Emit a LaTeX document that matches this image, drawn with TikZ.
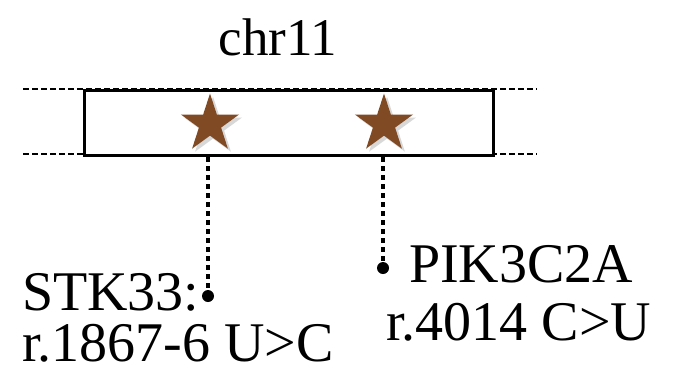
\documentclass[tikz,border=0pt]{standalone}
\usepackage{fontspec}
\setmainfont{Liberation Serif}
\usetikzlibrary{shapes.geometric,shadows}
\definecolor{starbrown}{RGB}{128,74,36}
\tikzset{
  lbl/.style={inner sep=0pt, anchor=base west, font=\fontsize{56}{60}\selectfont},
  starmark/.style={star, star points=5, star point ratio=2.618, minimum size=61pt, inner sep=0pt,
    fill=starbrown, draw=none, drop shadow={shadow xshift=3pt, shadow yshift=-3pt, opacity=0.3, fill=gray}},
  dotline/.style={line width=4.5pt, dash pattern=on 4.5pt off 4.5pt},
  guide/.style={line width=1.8pt, dash pattern=on 6pt off 3pt},
  pin/.style={circle, fill=black, inner sep=0pt, minimum size=12pt}
}
\begin{document}
\begin{tikzpicture}[x=1pt,y=-1pt]
\useasboundingbox (0,0) rectangle (674,383);
\coordinate (gl1) at (23,89); \coordinate (gr1) at (537,89);
\coordinate (gl2) at (23,154); \coordinate (gr2) at (537,154);
\draw[guide] (gl1) -- (gr1);
\draw[guide] (gl2) -- (gr2);
\node[draw, line width=2.6pt, fill=white, minimum width=409pt, minimum height=65pt, inner sep=0pt, anchor=north west] (box) at (83,89) {};
\node[starmark] (s1) at (210,124) {};
\node[starmark] (s2) at (384,124) {};
\node[pin] (p1) at (208,296) {};
\node[pin] (p2) at (383,268) {};
\draw[dotline] (208,157) -- (p1.center);
\draw[dotline] (383,157) -- (p2.center);
\node[lbl, anchor=base, font=\fontsize{53}{57}\selectfont] (chr) at (278,55) {chr11};
\node[lbl] (t1) at (22,310) {STK33:};
\node[lbl] (t2) at (22,361) {r.1867-6 U>C};
\node[lbl] (t3) at (409,282) {PIK3C2A};
\node[lbl] (t4) at (386,340) {r.4014 C>U};
\end{tikzpicture}
\end{document}
